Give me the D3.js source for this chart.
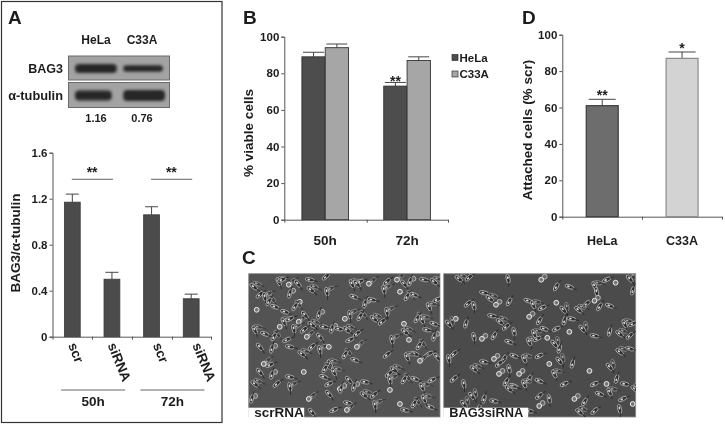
<!DOCTYPE html>
<html>
<head>
<meta charset="utf-8">
<script src="https://cdn.jsdelivr.net/npm/d3@7"></script>
<style>
  html, body { margin: 0; padding: 0; background: #fff; }
  svg { display: block; }
  text { font-family: "Liberation Sans", Arial, sans-serif; font-weight: bold; fill: #1c1c1c; }
  .tick text { font-size: 11.5px; }
  .domain, .tick line { stroke: #555; stroke-width: 1; }
</style>
</head>
<body>
<svg id="fig" width="725" height="426"></svg>
<script>
// panel A
var aLabels = ["scr", "siRNA", "scr", "siRNA"]
var aValues = [1.17, 0.5, 1.06, 0.33]
var aErrTops = [1.24, 0.56, 1.13, 0.37]
var aTicks = [0, 0.4, 0.8, 1.2, 1.6]
var aGroups = ["50h", "72h"]
var blotLanes = ["HeLa", "C33A"]
var blotRatios = ["1.16", "0.76"]

// panel B
var bGroups = ["50h", "72h"]
var bSeries = ["HeLa", "C33A"]
var bHela = [89, 73]
var bC33a = [94, 87]
var bHelaErrTops = [91.5, 75]
var bC33aErrTops = [96, 89]
var bTicks = [0, 20, 40, 60, 80, 100]

// panel D
var dLabels = ["HeLa", "C33A"]
var dValues = [61, 87]
var dErrTops = [64.5, 90.5]
var dStars = ["**", "*"]

// panel C, cell positions (x 0-191, y 0-143)
var scrCells = [[5,13],[11,21],[16,23],[8,36],[20,28],[26,33],[30,8],[33,6],[40,11],[49,10],[41,20],[61,6],[62,16],[77,3],[78,18],[51,28],[46,33],[36,38],[35,48],[41,45],[50,48],[56,41],[70,41],[75,53],[63,51],[55,56],[45,55],[31,53],[25,63],[16,60],[6,56],[38,66],[58,63],[71,63],[83,55],[90,55],[98,56],[108,60],[101,41],[96,45],[111,43],[105,23],[103,10],[111,8],[120,10],[108,10],[116,30],[123,26],[125,45],[133,48],[138,38],[155,50],[168,45],[185,50],[180,33],[188,26],[148,6],[155,10],[161,8],[175,6],[185,8],[138,8],[135,16],[151,18],[158,23],[165,21],[173,46],[101,66],[108,73],[11,73],[23,75],[41,73],[53,80],[63,73],[71,76],[80,73],[96,81],[106,86],[81,90],[21,91],[15,90],[11,98],[23,101],[41,103],[6,110],[28,110],[41,113],[55,98],[76,95],[75,103],[85,98],[80,110],[91,115],[100,106],[105,113],[116,108],[145,96],[140,100],[143,66],[160,66],[170,72],[166,80],[158,83],[180,80],[171,87],[188,83],[185,63],[178,56],[156,58],[138,81],[141,106],[141,116],[155,106],[166,105],[173,113],[183,106],[60,125],[80,120],[92,115],[99,129],[115,121],[125,121],[126,131],[151,130],[165,130],[181,133],[175,125],[85,136],[98,136],[63,138],[3,125],[156,136]]
var sirnaCells = [[15,5],[25,4],[64,5],[97,6],[112,13],[125,13],[150,12],[162,6],[171,9],[185,5],[188,17],[40,19],[46,25],[24,30],[30,32],[52,31],[65,28],[84,27],[89,31],[98,34],[112,29],[119,36],[120,47],[127,45],[134,36],[142,30],[152,18],[150,27],[155,33],[165,32],[180,50],[188,50],[12,45],[5,50],[22,50],[48,42],[56,48],[62,53],[70,58],[85,43],[95,47],[100,55],[90,60],[112,55],[125,58],[138,55],[165,58],[150,62],[175,60],[185,62],[30,63],[38,65],[50,62],[65,68],[85,68],[93,65],[103,64],[110,70],[115,75],[185,75],[175,78],[10,80],[5,85],[50,85],[60,85],[70,82],[80,85],[95,82],[105,90],[115,87],[128,90],[40,88],[30,95],[55,90],[65,95],[75,100],[85,105],[95,107],[110,100],[120,110],[145,97],[165,93],[172,105],[180,110],[190,115],[10,105],[20,110],[55,100],[62,108],[70,112],[80,110],[150,110],[162,110],[28,122],[40,125],[50,127],[65,115],[95,122],[105,125],[130,125],[140,128],[155,120],[165,118],[178,125],[188,130],[20,130],[35,135],[85,137],[135,138],[150,137],[175,135],[95,132]]
var cellAngles = [35, -40, 80, null, -60, 20, 65, -25, null, 50, -75, 10]

var svg = d3.select("#fig")

var defs = svg.append("defs")
defs.append("filter").attr("id", "soft").attr("x", "-5%").attr("y", "-5%").attr("width", "110%").attr("height", "110%")
    .append("feGaussianBlur").attr("stdDeviation", 0.4)
defs.append("filter").attr("id", "bandBlur").attr("x", "-20%").attr("y", "-60%").attr("width", "140%").attr("height", "220%")
    .append("feGaussianBlur").attr("stdDeviation", 1.5)
defs.append("filter").attr("id", "cellBlur").attr("x", "-5%").attr("y", "-5%").attr("width", "110%").attr("height", "110%")
    .append("feGaussianBlur").attr("stdDeviation", 0.55)

var root = svg.append("g").attr("filter", "url(#soft)")

function label(g, txt, x, y, size, anchor) {
    return g.append("text").attr("x", x).attr("y", y).attr("font-size", size)
        .attr("text-anchor", anchor || "middle").text(txt)
}

function yTitle(g, txt, x, y, size) {
    return g.append("text").attr("transform", `translate(${x},${y}) rotate(-90)`)
        .attr("font-size", size).attr("text-anchor", "middle").text(txt)
}

function fmtTick(d) { return d === 0 ? "0" : (d % 1 ? d.toFixed(1) : d + "") }

function axes(g, yScale, ticks, xEdges, x0, y0) {
    g.append("g").attr("transform", `translate(${x0},0)`)
        .call(d3.axisLeft(yScale).tickValues(ticks).tickFormat(fmtTick).tickSize(3).tickPadding(2))
    var xs = d3.scaleLinear().domain(d3.extent(xEdges)).range(d3.extent(xEdges))
    g.append("g").attr("transform", `translate(0,${y0})`)
        .call(d3.axisBottom(xs).tickValues(xEdges).tickFormat("").tickSize(3).tickSizeOuter(0))
}

function errBar(g, x, yTop, yBar, capW, color) {
    g.append("line").attr("x1", x).attr("x2", x).attr("y1", yTop).attr("y2", yBar).attr("stroke", color)
    g.append("line").attr("x1", x - capW / 2).attr("x2", x + capW / 2).attr("y1", yTop).attr("y2", yTop).attr("stroke", color)
}

// ---- panel A
var pa = root.append("g")
pa.append("rect").attr("x", 1.5).attr("y", 1.5).attr("width", 220.5).attr("height", 421)
    .attr("fill", "none").attr("stroke", "#333").attr("stroke-width", 1.2)
label(pa, "A", 8, 24, 19, "start")

var laneX = d3.scaleBand().domain(blotLanes).range([73, 167]).paddingInner(0.05)
var blots = [
    {name: "BAG3", y: 56, h: 24, bandH: [9, 6.5], bandW: [1, 0.95]},
    {name: "α-tubulin", y: 82.5, h: 25, bandH: [10, 11], bandW: [0.88, 1]}
]
blots.forEach(b => {
    pa.append("rect").attr("x", 68.5).attr("y", b.y).attr("width", 101).attr("height", b.h)
        .attr("fill", "#a3a3a3").attr("stroke", "#6a6a6a")
    blotLanes.forEach((lane, i) => {
        pa.append("rect").attr("x", laneX(lane) + 2).attr("y", b.y + b.h / 2 - b.bandH[i] / 2 + 0.5)
            .attr("width", (laneX.bandwidth() - 4) * b.bandW[i]).attr("height", b.bandH[i]).attr("rx", 4)
            .attr("fill", "#262626").attr("filter", "url(#bandBlur)")
    })
    label(pa, b.name, 63, b.y + b.h / 2 + 4.5, b.name === "BAG3" ? 12.5 : 12.8, "end")
})
blotLanes.forEach((lane, i) => {
    var cx = [96, 142][i]
    label(pa, lane, cx, 44, 12)
    label(pa, blotRatios[i], cx, 122, 11)
})

var aY = d3.scaleLinear().domain([0, 1.6]).range([336.7, 152.7])
var aEdges = [52.5, 92, 132, 172, 211]
var aX = d3.scaleBand().domain(d3.range(aValues.length)).range([52.5, 211]).paddingInner(0.6).paddingOuter(0.3)
axes(pa, aY, aTicks, aEdges, 52.5, 336.7)
aValues.forEach((v, i) => {
    var x = aX(i), w = aX.bandwidth()
    errBar(pa, x + w / 2, aY(aErrTops[i]), aY(v), 13, "#444")
    pa.append("rect").attr("x", x).attr("y", aY(v)).attr("width", w).attr("height", aY(0) - aY(v))
        .attr("fill", "#4b4b4b").attr("stroke", "#3a3a3a").attr("stroke-width", 0.8)
    // the second pair of labels sits a bit further right in the figure
    var shift = i >= 2 ? 9 : 3.5
    pa.append("text").attr("transform", `translate(${x + shift},${345}) rotate(68)`)
        .attr("font-size", 13.5).text(aLabels[i])
})
yTitle(pa, "BAG3/α-tubulin", 20, 243, 13.5)
aGroups.forEach((g, i) => {
    var x1 = aX(i * 2) + aX.bandwidth() / 2, x2 = aX(i * 2 + 1) + aX.bandwidth() / 2
    var mid = (x1 + x2) / 2
    pa.append("line").attr("x1", x1 - 0.5).attr("x2", x2 + 1).attr("y1", 179.3).attr("y2", 179.3).attr("stroke", "#666")
    label(pa, "**", mid, 177, 14)
    pa.append("line").attr("x1", mid - 31).attr("x2", mid + 33).attr("y1", 390).attr("y2", 390).attr("stroke", "#666")
    label(pa, g, mid + 1, 406, 13.5)
})

// ---- panel B
var pb = root.append("g")
label(pb, "B", 243, 24, 19, "start")
var bY = d3.scaleLinear().domain([0, 100]).range([219.7, 36.7])
var bX0 = d3.scaleBand().domain(bGroups).range([284.3, 448]).paddingInner(0.43).paddingOuter(0.215)
var bX1 = d3.scaleBand().domain(bSeries).range([0, bX0.bandwidth()])
axes(pb, bY, bTicks, [284.3, 366.7, 448], 284.3, 219.7)
var bColors = {HeLa: "#4d4d4d", C33A: "#a6a6a6"}
bGroups.forEach((g, i) => {
    bSeries.forEach((s, j) => {
        var v = (j ? bC33a : bHela)[i], top = (j ? bC33aErrTops : bHelaErrTops)[i]
        var x = bX0(g) + bX1(s), w = bX1.bandwidth()
        errBar(pb, x + w / 2, bY(top), bY(v), 21, "#444")
        pb.append("rect").attr("x", x).attr("y", bY(v)).attr("width", w).attr("height", bY(0) - bY(v))
            .attr("fill", bColors[s]).attr("stroke", "#333").attr("stroke-width", 0.9)
    })
    label(pb, g, bX0(g) + bX0.bandwidth() / 2, 245, 13.5)
})
label(pb, "**", bX0("72h") + bX1("HeLa") + bX1.bandwidth() / 2, 86, 14)
yTitle(pb, "% viable cells", 253, 133, 13.5)
bSeries.forEach((s, i) => {
    var y = 54.5 + i * 16.5
    pb.append("rect").attr("x", 452).attr("y", y).attr("width", 6).attr("height", 6)
        .attr("fill", bColors[s]).attr("stroke", "#333").attr("stroke-width", 0.7)
    label(pb, s, 459.5, y + 7, 11.5, "start")
})

// ---- panel D
var pd = root.append("g")
label(pd, "D", 522, 24, 19, "start")
var dY = d3.scaleLinear().domain([0, 100]).range([216.7, 34.7])
var dX = d3.scaleBand().domain(dLabels).range([562.3, 722]).paddingInner(0.6).paddingOuter(0.3)
axes(pd, dY, bTicks, [562.3, 642, 722], 562.3, 216.7)
var dFill = ["#6d6d6d", "#d3d3d3"], dStroke = ["#3c3c3c", "#8a8a8a"]
dLabels.forEach((l, i) => {
    var x = dX(l), w = dX.bandwidth(), v = dValues[i]
    errBar(pd, x + w / 2, dY(dErrTops[i]), dY(v), 27, "#444")
    pd.append("rect").attr("x", x).attr("y", dY(v)).attr("width", w).attr("height", dY(0) - dY(v))
        .attr("fill", dFill[i]).attr("stroke", dStroke[i]).attr("stroke-width", 1.2)
    label(pd, dStars[i], x + w / 2, dY(dErrTops[i]) + 1, 14)
    label(pd, l, x + w / 2, 245, 12.5)
})
yTitle(pd, "Attached cells (% scr)", 532, 130, 13.5)

// ---- panel C
var pc = root.append("g")
label(pc, "C", 242, 264, 19, "start")
var micrographs = [
    {name: "scrRNA", x: 248.7, w: 191.3, cells: scrCells, boxW: 56, fontSize: 13.5, clump: 2},
    {name: "BAG3siRNA", x: 443.7, w: 192, cells: sirnaCells, boxW: 85, fontSize: 12.8, clump: 3}
]

function drawCell(cg, x, y, a, op) {
    var cell = cg.append("g").attr("transform", `translate(${x},${y}) rotate(${a === null ? 0 : a})`).attr("opacity", op)
    if (a === null) {
        cell.append("circle").attr("r", 2.4).attr("fill", "#777").attr("stroke", "#ededed").attr("stroke-width", 1)
    } else {
        cell.append("ellipse").attr("rx", 4.6).attr("ry", 1.9).attr("fill", "#2f2f2f")
            .attr("stroke", "#b8b8b8").attr("stroke-width", 0.8)
        cell.append("line").attr("x1", 4).attr("x2", 8).attr("y1", 0).attr("y2", 0.6)
            .attr("stroke", "#2e2e2e").attr("stroke-width", 1)
        cell.append("ellipse").attr("cx", -1).attr("rx", 1.4).attr("ry", 0.9).attr("fill", "#d8d8d8")
    }
}

micrographs.forEach((m, k) => {
    var mx = d3.scaleLinear().domain([0, 191]).range([m.x, m.x + m.w])
    var my = d3.scaleLinear().domain([0, 143]).range([273.7, 417])
    defs.append("clipPath").attr("id", "micro" + k).append("rect")
        .attr("x", m.x).attr("y", 273.7).attr("width", m.w).attr("height", 143.3)
    pc.append("rect").attr("x", m.x).attr("y", 273.7).attr("width", m.w).attr("height", 143.3)
        .attr("fill", k ? "#4c4c4c" : "#525252").attr("stroke", "#8c8c8c").attr("stroke-width", 0.8)
    var cg = pc.append("g").attr("clip-path", `url(#micro${k})`).append("g").attr("filter", "url(#cellBlur)")
    m.cells.forEach((c, i) => {
        var a = cellAngles[i % cellAngles.length]
        var b = cellAngles[(i + 5) % cellAngles.length]
        // neighbour cell, the cultures grow in small clumps
        if (i % m.clump === 0) drawCell(cg, mx(c[0]) + 3.5, my(c[1]) - 3, b, 0.65)
        drawCell(cg, mx(c[0]), my(c[1]), a, 1)
    })
    pc.append("rect").attr("x", m.x - 0.5).attr("y", 407.7).attr("width", m.boxW).attr("height", 11.3).attr("fill", "#fff")
    label(pc, m.name, m.x + 5.5, 417, m.fontSize, "start")
})
</script>
</body>
</html>
